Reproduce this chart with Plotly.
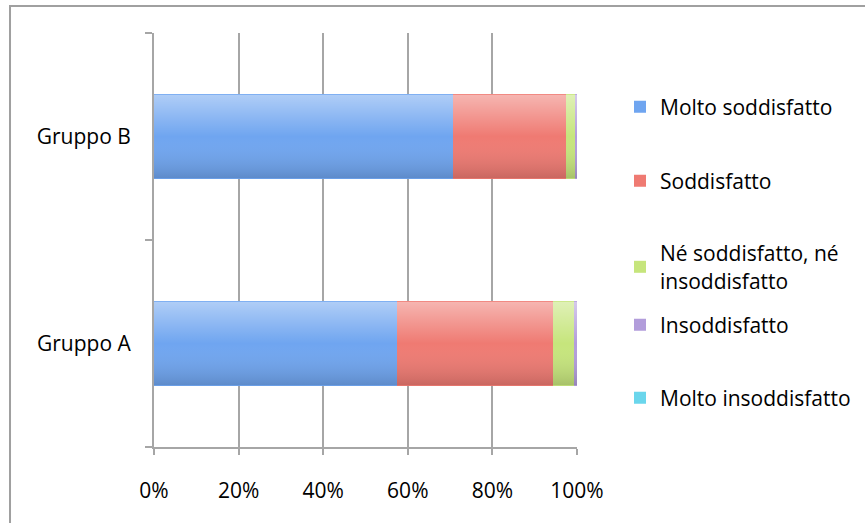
import base64
import plotly.graph_objects as go

# Survey satisfaction shares (percent of respondents) per group
groups = ["Gruppo A", "Gruppo B"]
levels = [
    "Molto soddisfatto",
    "Soddisfatto",
    "Né soddisfatto, né<br>insoddisfatto",
    "Insoddisfatto",
    "Molto insoddisfatto",
]
molto_soddisfatto = [57.5, 70.8]
soddisfatto = [36.8, 26.6]
neutro = [4.9, 2.3]
insoddisfatto = [0.8, 0.3]
molto_insoddisfatto = [0.0, 0.0]

series = [molto_soddisfatto, soddisfatto, neutro, insoddisfatto, molto_insoddisfatto]
colors = ["#6fa5f0", "#ef7a72", "#c6e57c", "#b29ddb", "#6ad6ec"]

FONT = "Open Sans, sans-serif"
FS = 21
W, H = 865, 523
BARGAP = 0.594

fig = go.Figure()
# legend slots (pixels from top) for each series
legend_y = [107, 181, 267, 325, 398]
for i, (name, vals) in enumerate(zip(levels, series)):
    lg = "legend" if i == 0 else f"legend{i + 1}"
    fig.add_trace(go.Bar(
        y=groups,
        x=[v / 100 for v in vals],
        name=name,
        orientation="h",
        marker=dict(color=colors[i], line=dict(width=0)),
        legend=lg,
    ))
    fig.update_layout({lg: dict(
        x=620 / W, y=1 - legend_y[i] / H, xref="container", yref="container",
        xanchor="left", yanchor="middle",
        bgcolor="rgba(0,0,0,0)",
        font=dict(family=FONT, size=FS, color="#000"),
        itemclick=False,
    )})

# soft vertical sheen laid over each stacked bar (light top, darker bottom)
sheen_svg = (
    '<svg xmlns="http://www.w3.org/2000/svg" width="10" height="100" '
    'preserveAspectRatio="none" viewBox="0 0 10 100">'
    '<defs><linearGradient id="g" x1="0" y1="0" x2="0" y2="1">'
    '<stop offset="0" stop-color="#ffffff" stop-opacity="0.45"/>'
    '<stop offset="0.5" stop-color="#ffffff" stop-opacity="0"/>'
    '<stop offset="1" stop-color="#000000" stop-opacity="0.16"/>'
    '</linearGradient></defs>'
    '<rect width="10" height="100" fill="url(#g)"/></svg>'
)
sheen_src = "data:image/svg+xml;base64," + base64.b64encode(sheen_svg.encode()).decode()
half = (1 - BARGAP) / 2
images = []
for idx in range(len(groups)):
    total = sum(s[idx] for s in series) / 100
    images.append(dict(
        source=sheen_src, xref="x", yref="y",
        x=0, y=idx + half, sizex=total, sizey=2 * half,
        xanchor="left", yanchor="top", sizing="stretch", layer="above",
    ))

grid = "#a6a6a6"
fig.update_layout(
    width=W, height=H,
    barmode="stack",
    bargap=BARGAP,
    plot_bgcolor="white",
    paper_bgcolor="white",
    margin=dict(l=154, r=288, t=33, b=76),
    font=dict(family=FONT, size=FS, color="#000"),
    xaxis=dict(
        range=[0, 1],
        tickvals=[0, 0.2, 0.4, 0.6, 0.8, 1.0],
        tickformat=".0%",
        showgrid=True, gridcolor=grid, gridwidth=2,
        zeroline=False,
        showline=True, linecolor=grid, linewidth=2,
        ticks="outside", ticklen=6, tickcolor=grid, tickwidth=2,
        ticklabelstandoff=18,
        fixedrange=True,
    ),
    yaxis=dict(
        type="category",
        range=[-0.5, 1.5],
        tickson="boundaries",
        showgrid=False,
        showline=True, linecolor=grid, linewidth=2,
        ticks="outside", ticklen=7, tickcolor=grid, tickwidth=2,
        ticklabelstandoff=17,
        fixedrange=True,
    ),
    showlegend=True,
    images=images,
    shapes=[dict(
        type="rect", xref="paper", yref="paper",
        x0=-0.3404, x1=1.75, y0=-0.25, y1=1.0652,
        line=dict(color="#a0a0a0", width=2), fillcolor="rgba(0,0,0,0)",
        layer="below",
    )],
)

fig.write_html("out.html")
